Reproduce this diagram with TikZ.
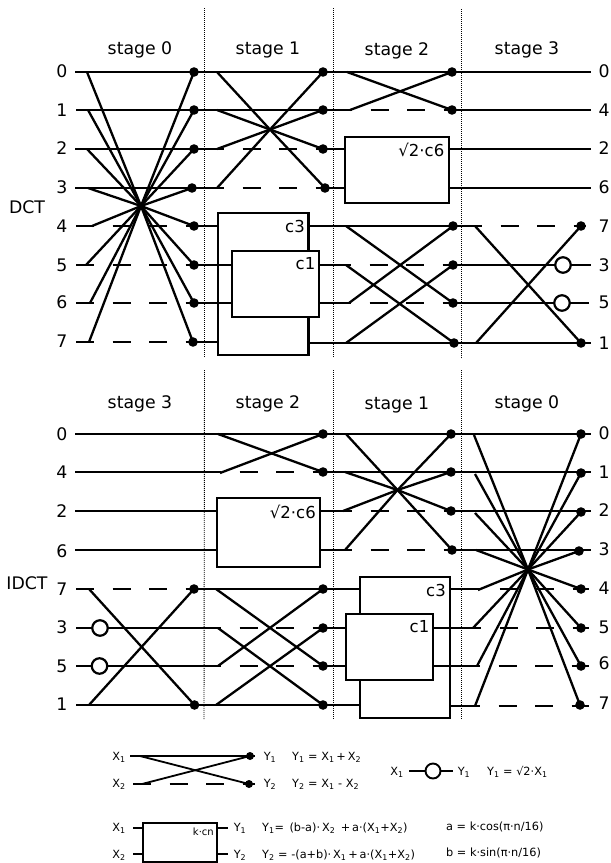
\documentclass[tikz,border=0pt]{standalone}
\usepackage{fontspec}
\setmainfont{DejaVu Sans}
\tikzset{
  sig/.style={line width=2.3pt,line cap=butt},
  dsh/.style={line width=2.3pt,dash pattern=on 18pt off 18.5pt,dash phase=18pt},
  sep/.style={line width=0.9pt,dash pattern=on 1pt off 1pt},
  dot/.style={circle,fill=black,inner sep=0pt,minimum size=9.6pt},
  ring/.style={circle,draw=black,fill=white,line width=2.2pt,inner sep=0pt,minimum size=15.5pt},
  blk/.style={draw=black,fill=white,line width=2.3pt,inner sep=0pt,outer sep=0pt,anchor=north west},
  big/.style={inner sep=0pt,font=\fontsize{17.3}{18}\selectfont},
  mid/.style={inner sep=0pt,font=\fontsize{16.5}{18}\selectfont,anchor=east},
  leg/.style={inner sep=0pt,font=\fontsize{11.3}{12}\selectfont},
  lgl/.style={line width=1.8pt},
}
\begin{document}
\begin{tikzpicture}[x=1pt,y=-1pt]
\useasboundingbox (0,0) rectangle (611,863);
% ---------- separators
\coordinate (sa1) at (204.5,8); \coordinate (sa2) at (204.5,358);
\coordinate (sb1) at (333.5,8); \coordinate (sb2) at (333.5,358);
\coordinate (sc1) at (461,9);   \coordinate (sc2) at (461,358);
\coordinate (sd1) at (204.5,370); \coordinate (sd2) at (204,720);
\coordinate (se1) at (333,370); \coordinate (se2) at (333,720);
\coordinate (sf1) at (461,370); \coordinate (sf2) at (461,720);
\foreach \p/\q in {sa1/sa2,sb1/sb2,sc1/sc2,sd1/sd2,se1/se2,sf1/sf2} \draw[sep] (\p) -- (\q);
% ---------- titles
\node[big] (t0) at (140,50) {stage 0};
\node[big] (t1) at (268,50) {stage 1};
\node[big] (t2) at (397,50.5) {stage 2};
\node[big] (t3) at (527,49.5) {stage 3};
\node[big] (u3) at (140,403.5) {stage 3};
\node[big] (u2) at (268,403.5) {stage 2};
\node[big] (u1) at (397,404.5) {stage 1};
\node[big] (u0) at (527,403.5) {stage 0};
\node[big] (dct) at (27,207.5) {DCT};
\node[big] (idct) at (27,583) {IDCT};
% ---------- row labels
\foreach \n/\t/\y in {a/0/71.5,b/1/110,c/2/148.5,d/3/187.5,e/4/226,f/5/265,g/6/302.5,h/7/341.5,
                      i/0/434,j/4/472.5,k/2/511,l/6/551,m/7/589,n/3/627.5,o/5/666,p/1/704.5}
  \node[big] (lab\n) at (62,\y) {\t};
\foreach \n/\t/\y in {a/0/71.5,b/4/110,c/2/148.5,d/6/187.5,e/7/226,f/3/265,g/5/302.5,h/1/343,
                      i/0/433.5,j/1/472,k/2/510,l/3/549.5,m/4/588,n/5/627.5,o/6/663.5,p/7/703.5}
  \node[big] (rab\n) at (604,\y) {\t};

% ================ TOP : DCT ================
\coordinate (cz) at (141,206);
\coordinate (cy) at (270,129.5);
% row starts
\coordinate (L0) at (75,72);  \coordinate (L1) at (76,110);   \coordinate (L2) at (75,149); \coordinate (L3) at (75,188);
\coordinate (L4) at (76,226);   \coordinate (L5) at (76,265);   \coordinate (L6) at (76,303); \coordinate (L7) at (76,342);
% row ends
\coordinate (R0) at (591,72); \coordinate (R1) at (591,110);  \coordinate (R2) at (591,149);\coordinate (R3) at (591,188);
\coordinate (R4) at (586,226);  \coordinate (R5) at (591,265);  \coordinate (R6) at (589,303);  \coordinate (R7) at (591,343);
% stage 0 branch points
\coordinate (P0) at (87,72);  \coordinate (P1) at (88,110);   \coordinate (P2) at (87,149); \coordinate (P3) at (88,188);
\coordinate (P4) at (92,226);   \coordinate (P5) at (86,265);   \coordinate (P6) at (90,303); \coordinate (P7) at (89,342);
\coordinate (Q4) at (94,226);   \coordinate (Q5) at (94,265);   \coordinate (Q6) at (94,303); \coordinate (Q7) at (94,342);
% stage 0 dots
\coordinate (A0) at (194,72); \coordinate (A1) at (194,110);  \coordinate (A2) at (194,149);\coordinate (A3) at (192,188);
\coordinate (A4) at (194,226);  \coordinate (A5) at (194,265);  \coordinate (A6) at (194,303);\coordinate (A7) at (193,342);
% stage 1
\coordinate (B0) at (323,72); \coordinate (B1) at (323,110);  \coordinate (B2) at (323,149);\coordinate (B3) at (325,188);
\coordinate (S0) at (217,72); \coordinate (S1) at (217,110);  \coordinate (S2) at (217,149);\coordinate (S3) at (217,188);
\coordinate (T2) at (224,149);\coordinate (T3) at (224,188);
% stage 2
\coordinate (C0) at (452,72); \coordinate (C1) at (452,110);
\coordinate (C4) at (453,226);  \coordinate (C5) at (453,265);  \coordinate (C6) at (453,303);  \coordinate (C7) at (454,343);
\coordinate (V0) at (347,72); \coordinate (V1) at (350,110);  \coordinate (W1) at (352,110);
\coordinate (V4) at (346,226);  \coordinate (V5) at (346,265);  \coordinate (V6) at (349,303);  \coordinate (V7) at (346,343);
\coordinate (W5) at (351,265);  \coordinate (W6) at (351,303);
% stage 3
\coordinate (D4) at (581,226);  \coordinate (D7) at (581,343);
\coordinate (X4) at (475,226);  \coordinate (X7) at (476,343);  \coordinate (Y4) at (482,226);

% stage 0
\foreach \a/\b in {L0/A0,L1/A1,L2/A2,L3/A3,L4/Q4,L5/Q5,L6/Q6,L7/Q7} \draw[sig] (\a) -- (\b);
\foreach \a/\b in {Q4/A4,Q5/A5,Q6/A6,Q7/A7} \draw[dsh] (\a) -- (\b);
\foreach \a/\b in {P0/A7,P1/A6,P2/A5,P3/A4,P4/A3,P5/A2,P6/A1,P7/A0} \draw[sig,line join=bevel] (\a) -- (cz) -- (\b);
% stage 1
\foreach \a/\b in {A0/B0,A1/B1,A2/T2,A3/T3} \draw[sig] (\a) -- (\b);
\foreach \a/\b in {T2/B2,T3/B3} \draw[dsh] (\a) -- (\b);
\foreach \a/\b in {S0/B3,S1/B2,S2/B1,S3/B0} \draw[sig,line join=bevel] (\a) -- (cy) -- (\b);
% stage 2 + 3 upper rows
\foreach \a/\b in {B0/C0,B1/W1,C0/R0,C1/R1} \draw[sig] (\a) -- (\b);
\draw[dsh] (W1) -- (C1);
\foreach \a/\b in {V0/C1,V1/C0} \draw[sig] (\a) -- (\b);
% block c6
\node[blk,minimum width=103.7pt,minimum height=65.7pt] (t6) at (345.3,137) {};
\foreach \a/\b in {B2/R2,B3/R3} {
  \draw[sig] (\a) -- (\a -| t6.west);
  \draw[sig] (\b -| t6.east) -- (\b);
}
\node[mid] (t6l) at (444.5,150) {√2·c6};
% blocks c3, c1
\node[blk,minimum width=90.2pt,minimum height=142pt] (t3b) at (218.3,213) {};
\node[mid] (t3l) at (305,226) {c3};
\draw[sig] (A4) -- (A4 -| t3b.west);
\draw[sig] (A7) -- (A7 -| t3b.west);
\draw[sig] (A5) -- (231.7,265);
\draw[sig] (A6) -- (231.7,303);
\node[blk,minimum width=87.3pt,minimum height=65.7pt] (t1b) at (231.7,251) {};
\node[mid] (t1l) at (315.5,264) {c1};
\draw[sig] (t3b.east |- C4) -- (C4);
\draw[sig] (t3b.east |- C7) -- (C7);
\draw[sig] (t1b.east |- W5) -- (W5);
\draw[sig] (t1b.east |- W6) -- (W6);
\foreach \a/\b in {W5/C5,W6/C6} \draw[dsh] (\a) -- (\b);
\foreach \a/\b in {V4/C6,V5/C7,V6/C4,V7/C5} \draw[sig] (\a) -- (\b);
% stage 3
\draw[sig] (C4) -- (Y4); \draw[dsh] (Y4) -- (D4); \draw[sig] (D4) -- (R4);
\draw[sig] (C5) -- (R5); \draw[sig] (C6) -- (R6); \draw[sig] (C7) -- (R7);
\foreach \a/\b in {X4/D7,X7/D4} \draw[sig] (\a) -- (\b);
\node[ring] (r3) at (563,265) {};
\node[ring] (r5) at (562,303) {};
% dots
\foreach \c in {A0,A1,A2,A3,A4,A5,A6,A7,B0,B1,B2,B3,C0,C1,C4,C5,C6,C7,D4,D7}
  \node[dot] (n\c) at (\c) {};

% ================ BOTTOM : IDCT ================
\coordinate (cw) at (397.5,490);
\coordinate (cv) at (528,569.5);
\coordinate (l0) at (75,434); \coordinate (l1) at (75,472); \coordinate (l2) at (75,511);\coordinate (l3) at (75,550);
\coordinate (l4) at (76,589); \coordinate (l5) at (76,628); \coordinate (l6) at (76,666);\coordinate (l7) at (76,705);
\coordinate (q4) at (94,589);
\coordinate (g0) at (323,434);\coordinate (g1) at (323,472);
\coordinate (s1) at (221,472);\coordinate (s0) at (218,434);\coordinate (e1) at (220,473);
\coordinate (h4) at (194,589);\coordinate (h7) at (194.5,705);
\coordinate (j4) at (89,589); \coordinate (j7) at (89,705);
\coordinate (s5) at (221,628);\coordinate (s6) at (221,666);
\coordinate (m4) at (323,589);\coordinate (m5) at (323,628);\coordinate (m6) at (323,666);\coordinate (m7) at (323,705);
\coordinate (f4) at (216,589);\coordinate (f5) at (218,628);\coordinate (f6) at (218,666);\coordinate (f7) at (216,705);
% stage 3 + 2
\foreach \a/\b in {l0/g0,l1/s1} \draw[sig] (\a) -- (\b);
\draw[sig] (l4) -- (q4); \draw[dsh] (q4) -- (h4);
\draw[sig] (h4) -- (m4);
\draw[sig] (l5) -- (s5); \draw[dsh] (s5) -- (m5);
\draw[sig] (l6) -- (s6); \draw[dsh] (s6) -- (m6);
\draw[sig] (l7) -- (m7);
\draw[dsh] (s1) -- (g1);
\foreach \a/\b in {s0/g1,e1/g0,j4/h7,j7/h4,f4/m6,f5/m7,f6/m4,f7/m5} \draw[sig] (\a) -- (\b);
\node[ring] (r6) at (100,628) {};
\node[ring] (r7) at (99.5,666) {};
% stage 1
\coordinate (z0) at (451,434);\coordinate (z1) at (451,472);\coordinate (z2) at (451,511);\coordinate (z3) at (452,550);
\coordinate (o0) at (591,434);\coordinate (o1) at (591,472);\coordinate (o2) at (591,511);\coordinate (o3) at (591,550);
\coordinate (w2) at (352,511);\coordinate (w3) at (352,550);
\coordinate (b0) at (346,434);\coordinate (b1) at (345,472);\coordinate (b2) at (343,511);\coordinate (b3) at (345,550);
\foreach \a/\b in {g0/z0,g1/z1,z0/o0,z1/o1,z2/o2,z3/o3} \draw[sig] (\a) -- (\b);
\node[blk,minimum width=103.3pt,minimum height=68.4pt] (b6) at (216.7,498.3) {};
\node[mid] (b6l) at (316,511.5) {√2·c6};
\draw[sig] (l2) -- (l2 -| b6.west);
\draw[sig] (l3) -- (l3 -| b6.west);
\draw[sig] (b6.east |- w2) -- (w2);
\draw[sig] (b6.east |- w3) -- (w3);
\foreach \a/\b in {w2/z2,w3/z3} \draw[dsh] (\a) -- (\b);
\foreach \a/\b in {b0/z3,b1/z2,b2/z1,b3/z0} \draw[sig,line join=bevel] (\a) -- (cw) -- (\b);
% blocks
\coordinate (n4) at (481,589);  \coordinate (n5) at (481,628);  \coordinate (n6) at (480,666);\coordinate (n7) at (480,706);
\node[blk,minimum width=90pt,minimum height=141.3pt] (b3b) at (359.7,576.7) {};
\node[mid] (b3l) at (446,590) {c3};
\draw[sig] (m4) -- (m4 -| b3b.west);
\draw[sig] (m7) -- (m7 -| b3b.west);
\draw[sig] (m5) -- (346,628);
\draw[sig] (m6) -- (346,666);
\node[blk,minimum width=86.7pt,minimum height=65.7pt] (b1b) at (346,614.3) {};
\node[mid] (b1l) at (429.5,627) {c1};
\draw[sig] (b3b.east |- n4) -- (n4);
\draw[sig] (b3b.east |- n7) -- (n7);
\draw[sig] (b1b.east |- n5) -- (n5);
\draw[sig] (b1b.east |- n6) -- (n6);
% stage 0
\coordinate (y0) at (581,434);\coordinate (y1) at (581,473);  \coordinate (y2) at (581,512);  \coordinate (y3) at (579,551);
\coordinate (y4) at (581,589);\coordinate (y5) at (581,628);  \coordinate (y6) at (581,666);  \coordinate (y7) at (580,705);
\coordinate (o4) at (589,589);  \coordinate (o5) at (589,628);  \coordinate (o6) at (589,666);\coordinate (o7) at (589,706);
\coordinate (a0) at (474,435);  \coordinate (a1) at (475,474);  \coordinate (a2) at (475,513);  \coordinate (a3) at (476,550);
\coordinate (a4) at (478,590);  \coordinate (a5) at (473,628);  \coordinate (a6) at (477,666);  \coordinate (a7) at (475,706);
\foreach \a/\b in {n4/o4,n5/o5,n6/o6,n7/o7} \draw[dsh] (\a) -- (\b);
\foreach \a/\b in {a0/y7,a1/y6,a2/y5,a3/y4,a4/y3,a5/y2,a6/y1,a7/y0} \draw[sig,line join=bevel] (\a) -- (cv) -- (\b);
% dots
\foreach \c in {g0,g1,h4,h7,m4,m5,m6,m7,z0,z1,z2,z3,y0,y1,y2,y3,y4,y5,y6,y7}
  \node[dot] (d\c) at (\c) {};

% ================ LEGEND ================
\node[leg] (x1) at (119,757) {X\textsubscript{1}};
\node[leg] (x2) at (119,784) {X\textsubscript{2}};
\node[leg] (y1) at (270,757) {Y\textsubscript{1}};
\node[leg] (y2) at (270,784) {Y\textsubscript{2}};
\coordinate (xa) at (130,756); \coordinate (xb) at (133,784); \coordinate (xc) at (151,784);
\coordinate (xd) at (140,756); \coordinate (xe) at (142,784);
\coordinate (ya) at (250,756); \coordinate (yb) at (249,784);
\coordinate (yc) at (255,756); \coordinate (yd) at (255,784);
\draw[sig,lgl] (xa) -- (yc); \draw[sig,lgl] (xb) -- (xc);
\draw[dsh,lgl] (xc) -- (yb); \draw[sig,lgl] (yb) -- (yd);
\draw[sig,lgl] (xd) -- (yb); \draw[sig,lgl] (xe) -- (ya);
\node[dot,minimum size=8pt] (ly1) at (ya) {};
\node[dot,minimum size=8pt] (ly2) at (yb) {};
\node[leg,anchor=west] (f1) at (292,757) {Y\textsubscript{1} = X\textsubscript{1}\,+\,X\textsubscript{2}};
\node[leg,anchor=west] (f2) at (292,784) {Y\textsubscript{2} = X\textsubscript{1} - X\textsubscript{2}};
% scale
\node[leg] (x3) at (397,772) {X\textsubscript{1}};
\coordinate (xf) at (409,771); \coordinate (xg) at (453,771);
\draw[sig,lgl] (xf) -- (xg);
\node[ring,line width=1.9pt,minimum size=15pt] (lr) at (433,771) {};
\node[leg] (y3) at (464,772) {Y\textsubscript{1}};
\node[leg,anchor=west] (f3) at (487,772) {Y\textsubscript{1} = √2·X\textsubscript{1}};
% rotator
\node[blk,lgl,minimum width=74pt,minimum height=39pt] (lb) at (143,823) {};
\node[leg,anchor=east,font=\fontsize{10}{12}\selectfont] (lbt) at (214,832) {k·cn};
\coordinate (pa) at (133,828); \coordinate (pb) at (133,854);
\coordinate (pc) at (228,828); \coordinate (pd) at (228,854);
\draw[sig,lgl] (pa) -- (pa -| lb.west);
\draw[sig,lgl] (pb) -- (pb -| lb.west);
\draw[sig,lgl] (pc -| lb.east) -- (pc);
\draw[sig,lgl] (pd -| lb.east) -- (pd);
\node[leg] (x4) at (119,828) {X\textsubscript{1}};
\node[leg] (x5) at (119,855) {X\textsubscript{2}};
\node[leg] (y4t) at (240,828) {Y\textsubscript{1}};
\node[leg] (y5t) at (240,855) {Y\textsubscript{2}};
\node[leg,anchor=west] (f4) at (262,828) {Y\textsubscript{1}= \,(b-a)·\,X\textsubscript{2} \,+\,a·(X\textsubscript{1}+X\textsubscript{2})};
\node[leg,anchor=west] (f5) at (262,855) {Y\textsubscript{2} = -(a+b)·\,X\textsubscript{1}\,+\,a·(X\textsubscript{1}+X\textsubscript{2})};
\node[leg,anchor=west] (f6) at (446,827) {a = k·cos(π·n/16)};
\node[leg,anchor=west] (f7) at (446,853) {b = k·sin(π·n/16)};
\end{tikzpicture}
\end{document}
